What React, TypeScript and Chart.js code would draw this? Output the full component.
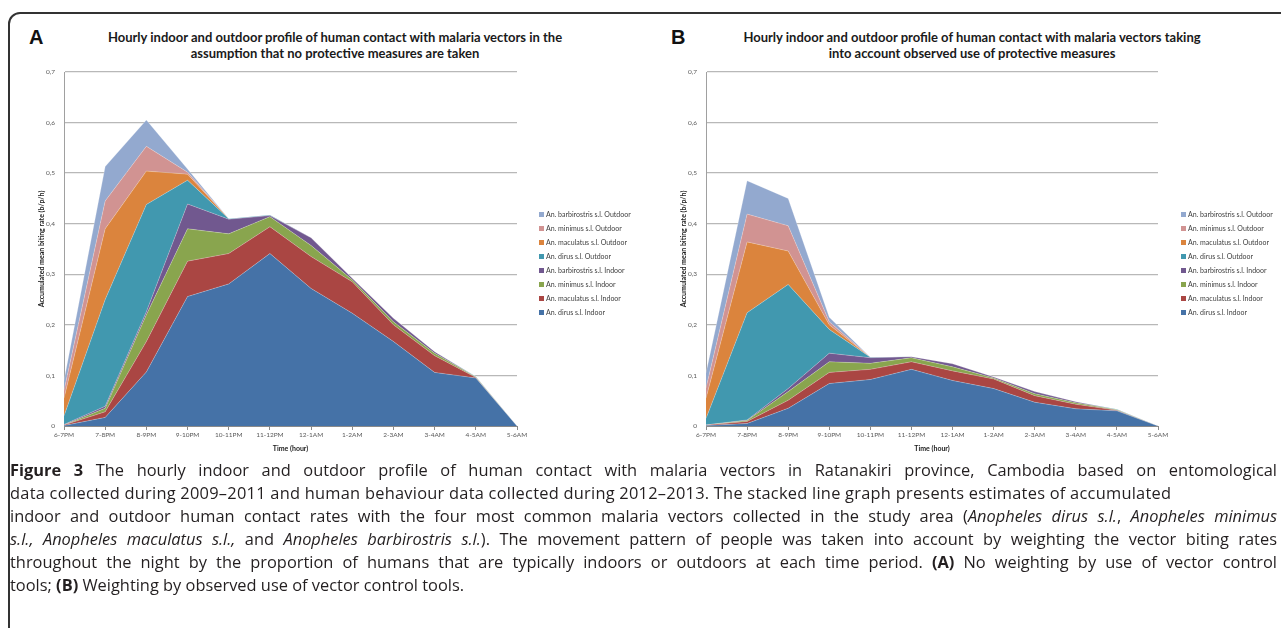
import React, { useEffect, useRef } from "react";
import { Chart, registerables } from "chart.js";

Chart.register(...registerables);

// ---------- data ----------
const categories = ["6-7PM", "7-8PM", "8-9PM", "9-10PM", "10-11PM", "11-12PM", "12-1AM", "1-2AM", "2-3AM", "3-4AM", "4-5AM", "5-6AM"];

const seriesNames = [
  "An. dirus s.l. Indoor",
  "An. maculatus s.l. Indoor",
  "An. minimus s.l. Indoor",
  "An. barbirostris s.l. Indoor",
  "An. dirus s.l. Outdoor",
  "An. maculatus s.l. Outdoor",
  "An. minimus s.l. Outdoor",
  "An. barbirostris s.l. Outdoor",
];
const seriesColors = ["#4572A7", "#AA4643", "#89A54E", "#71588F", "#4198AF", "#DB843D", "#D19392", "#93A9CF"];

// Panel A – no protective measures
const aDirusIndoor = [0.001, 0.017, 0.107, 0.256, 0.281, 0.341, 0.272, 0.223, 0.167, 0.106, 0.095, 0];
const aMaculatusIndoor = [0.001, 0.011, 0.06, 0.07, 0.06, 0.053, 0.063, 0.062, 0.033, 0.033, 0.001, 0];
const aMinimusIndoor = [0.0, 0.007, 0.053, 0.064, 0.039, 0.02, 0.022, 0.004, 0.006, 0.005, 0.001, 0];
const aBarbirostrisIndoor = [0.001, 0.004, 0.006, 0.049, 0.029, 0.002, 0.015, 0.003, 0.007, 0.003, 0.0, 0];
const aDirusOutdoor = [0.017, 0.211, 0.212, 0.047, 0.001, 0.001, 0, 0, 0, 0, 0.001, 0];
const aMaculatusOutdoor = [0.035, 0.14, 0.066, 0.012, 0, 0, 0, 0, 0, 0, 0, 0];
const aMinimusOutdoor = [0.015, 0.055, 0.049, 0.004, 0, 0, 0, 0, 0, 0, 0, 0];
const aBarbirostrisOutdoor = [0.02, 0.068, 0.052, 0.006, 0, 0, 0, 0, 0, 0, 0, 0];

// Panel B – observed use of protective measures
const bDirusIndoor = [0.001, 0.005, 0.035, 0.084, 0.092, 0.112, 0.09, 0.074, 0.047, 0.034, 0.03, 0];
const bMaculatusIndoor = [0.001, 0.004, 0.016, 0.022, 0.02, 0.015, 0.019, 0.019, 0.013, 0.009, 0.001, 0];
const bMinimusIndoor = [0.0, 0.002, 0.017, 0.021, 0.012, 0.008, 0.008, 0.002, 0.004, 0.003, 0.001, 0];
const bBarbirostrisIndoor = [0.0, 0.001, 0.006, 0.017, 0.011, 0.002, 0.006, 0.002, 0.004, 0.002, 0, 0];
const bDirusOutdoor = [0.013, 0.212, 0.206, 0.047, 0.001, 0, 0, 0, 0, 0, 0.001, 0];
const bMaculatusOutdoor = [0.04, 0.14, 0.066, 0.009, 0, 0, 0, 0, 0, 0, 0, 0];
const bMinimusOutdoor = [0.02, 0.055, 0.05, 0.006, 0, 0, 0, 0, 0, 0, 0, 0];
const bBarbirostrisOutdoor = [0.03, 0.066, 0.054, 0.009, 0, 0, 0, 0, 0, 0, 0, 0];

const yMin = 0;
const yMax = 0.7;
const yStep = 0.1;

const titleA = ["Hourly indoor and outdoor profile of human contact with malaria vectors in the", "assumption that no protective measures are taken"];
const titleB = ["Hourly indoor and outdoor profile of human contact with malaria vectors taking", "into account observed use of protective measures"];
const yAxisTitle = "Accumulated mean biting rate (b/p/h)";
const xAxisTitle = "Time (hour)";

const panelAData = [aDirusIndoor, aMaculatusIndoor, aMinimusIndoor, aBarbirostrisIndoor, aDirusOutdoor, aMaculatusOutdoor, aMinimusOutdoor, aBarbirostrisOutdoor];
const panelBData = [bDirusIndoor, bMaculatusIndoor, bMinimusIndoor, bBarbirostrisIndoor, bDirusOutdoor, bMaculatusOutdoor, bMinimusOutdoor, bBarbirostrisOutdoor];

const FONT = "Lato, 'Open Sans', sans-serif";
const CAPTION_FONT = "'Open Sans', 'Noto Sans', sans-serif";

type PanelProps = {
  letter: string;
  title: string[];
  series: number[][];
  left: number;
  width: number;
  padRight: number;
  legendX: number;
  letterX: number;
  titleCenter: number;
};

function Panel({ letter, title, series, left, width, padRight, legendX, letterX, titleCenter }: PanelProps) {
  const ref = useRef<HTMLCanvasElement | null>(null);
  useEffect(() => {
    if (!ref.current) return;
    const chart = new Chart(ref.current, {
      type: "line",
      data: {
        labels: categories,
        datasets: series.map((d, i) => ({
          label: seriesNames[i],
          data: d,
          backgroundColor: seriesColors[i],
          borderColor: "rgba(255,255,255,0.3)",
          borderWidth: 0.8,
          pointRadius: 0,
          tension: 0,
          fill: i === 0 ? "origin" : "-1",
        })),
      },
      options: {
        animation: false,
        responsive: false,
        layout: { padding: { left: 6, right: padRight, top: 52, bottom: 0 } },
        plugins: {
          legend: { display: false },
          tooltip: { enabled: false },
          title: { display: false },
        },
        scales: {
          x: {
            offset: false,
            grid: { display: true, drawOnChartArea: false, drawTicks: true, tickLength: 4, color: "#8a8a8a" },
            border: { display: true, color: "#8a8a8a", width: 1 },
            ticks: { font: { family: FONT, size: 6.5 }, color: "#595959", padding: 1, maxRotation: 0, autoSkip: false },
            title: { display: true, text: xAxisTitle, font: { family: FONT, weight: "bold", size: 7 }, color: "#1a1a1a", padding: { top: 0, bottom: 6.8 } },
            afterFit: (s: any) => {
              s.height = 34;
              s.paddingLeft = 0;
              s.paddingRight = 0;
            },
          },
          y: {
            stacked: true,
            min: yMin,
            max: yMax,
            grid: { color: "#b8b8b8", lineWidth: 1.3, drawTicks: false },
            border: { display: true, color: "#a0a0a0", width: 1 },
            ticks: {
              stepSize: yStep,
              padding: 9,
              font: { family: FONT, size: 6.5 },
              color: "#595959",
              callback: (v: any) => (Number(v) === 0 ? "0" : Number(v).toFixed(1).replace(".", ",")),
            },
            title: { display: true, text: yAxisTitle, font: { family: FONT, weight: "bold", size: 7 }, color: "#1a1a1a", padding: { top: 7.8, bottom: 0 } },
            afterFit: (s: any) => {
              s.width = 34;
            },
          },
        },
      },
    });
    return () => chart.destroy();
  }, []);

  const legendOrder = seriesNames.map((n, i) => i).reverse();
  return (
    <>
      <div style={{ position: "absolute", left: letterX, top: 26, font: `bold 20px 'Liberation Sans', Arial, sans-serif`, color: "#111" }}>{letter}</div>
      <div
        style={{
          position: "absolute",
          left: titleCenter - 320,
          width: 640,
          top: 29,
          textAlign: "center",
          font: `bold 13px ${FONT}`,
          lineHeight: "16px",
          color: "#1a1a1a",
          whiteSpace: "nowrap",
        }}
      >
        {title.map((t, i) => (
          <div key={i}>{t}</div>
        ))}
      </div>
      <canvas ref={ref} width={width} height={440} style={{ position: "absolute", left, top: 20 }} />
      {legendOrder.map((idx, k) => (
        <div key={idx} style={{ position: "absolute", left: legendX, top: 214 + 14 * k - 5, height: 10, display: "flex", alignItems: "center", whiteSpace: "nowrap" }}>
          <span style={{ display: "inline-block", width: 5, height: 5, background: seriesColors[idx], marginRight: 2 }} />
          <span style={{ font: `7px ${FONT}`, color: "#404040" }}>{seriesNames[idx]}</span>
        </div>
      ))}
    </>
  );
}

const lineStyle = (justify: boolean, top: number, spacing = 0): React.CSSProperties => ({
  position: "absolute",
  left: 10,
  width: 1267,
  top,
  height: 23,
  lineHeight: "23px",
  whiteSpace: "nowrap",
  letterSpacing: spacing ? `${spacing}px` : undefined,
  textAlign: justify ? "justify" : "left",
  textAlignLast: justify ? "justify" : "left",
});

export default function App() {
  return (
    <div style={{ position: "fixed", inset: 0, overflow: "hidden", background: "#fff" }}>
      <div style={{ position: "absolute", left: 8, top: 12, width: 1400, height: 800, border: "2px solid #333", borderTopLeftRadius: 12, boxSizing: "border-box" }} />
      <Panel letter="A" title={titleA} series={panelAData} left={24} width={622} padRight={129} legendX={539} letterX={29} titleCenter={335} />
      <Panel letter="B" title={titleB} series={panelBData} left={666} width={608} padRight={116} legendX={1181} letterX={671} titleCenter={972} />
      <div style={{ position: "absolute", left: 0, top: 0, font: `16.4px ${CAPTION_FONT}`, color: "#231f20" }}>
        <div style={lineStyle(true, 458)}>
          <b>Figure 3</b> The hourly indoor and outdoor profile of human contact with malaria vectors in Ratanakiri province, Cambodia based on entomological
        </div>
        <div style={lineStyle(false, 481, 0.25)}>
          data collected during 2009–2011 and human behaviour data collected during 2012–2013. The stacked line graph presents estimates of accumulated
        </div>
        <div style={lineStyle(true, 504)}>
          indoor and outdoor human contact rates with the four most common malaria vectors collected in the study area (<i>Anopheles dirus s.l.</i>, <i>Anopheles minimus</i>
        </div>
        <div style={lineStyle(true, 527)}>
          <i>s.l., Anopheles maculatus s.l.,</i> and <i>Anopheles barbirostris s.l.</i>). The movement pattern of people was taken into account by weighting the vector biting rates
        </div>
        <div style={lineStyle(true, 550)}>
          throughout the night by the proportion of humans that are typically indoors or outdoors at each time period. <b>(A)</b> No weighting by use of vector control
        </div>
        <div style={lineStyle(false, 573)}>
          tools; <b>(B)</b> Weighting by observed use of vector control tools.
        </div>
      </div>
    </div>
  );
}
